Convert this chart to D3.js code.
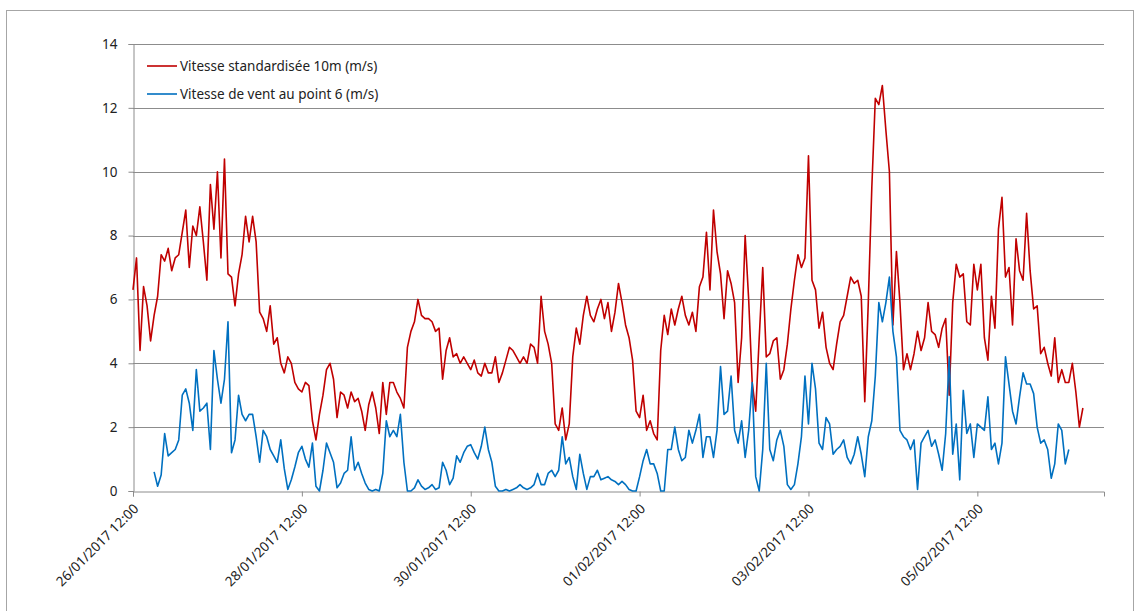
<!DOCTYPE html>
<html lang="fr">
<head>
<meta charset="utf-8">
<title>Vitesse du vent</title>
<script src="https://d3js.org/d3.v7.min.js"></script>
<style>
  body { margin: 0; background: #fff; }
  svg { display: block; font-family: "Noto Sans", "Open Sans", sans-serif; }
</style>
</head>
<body>
<script>
// hourly data, first value at 26/01/2017 12:00
var startTime = "26/01/2017 12:00";
var seriesNames = ["Vitesse standardisée 10m (m/s)", "Vitesse de vent au point 6 (m/s)"];
var tickLabels = ["26/01/2017 12:00", "28/01/2017 12:00", "30/01/2017 12:00",
                  "01/02/2017 12:00", "03/02/2017 12:00", "05/02/2017 12:00"];
var yTicks = [0, 2, 4, 6, 8, 10, 12, 14];

var vitesseStd = [
  6.3, 7.3, 4.4, 6.4, 5.8, 4.7, 5.5, 6.1, 7.4, 7.2, 7.6, 6.9, 7.3, 7.4, 8.1, 8.8, 7.0, 8.3, 8.0, 8.9, 7.8, 6.6, 9.6, 8.2,
  10.0, 7.3, 10.4, 6.8, 6.7, 5.8, 6.8, 7.4, 8.6, 7.8, 8.6, 7.8, 5.6, 5.4, 5.0, 5.8, 4.6, 4.8, 4.0, 3.7, 4.2, 4.0, 3.4, 3.2,
  3.1, 3.4, 3.3, 2.2, 1.6, 2.4, 3.0, 3.8, 4.0, 3.5, 2.3, 3.1, 3.0, 2.6, 3.1, 2.8, 2.9, 2.5, 1.9, 2.7, 3.1, 2.6, 1.8, 3.4,
  2.4, 3.4, 3.4, 3.1, 2.9, 2.6, 4.5, 5.0, 5.3, 6.0, 5.5, 5.4, 5.4, 5.3, 5.0, 5.1, 3.5, 4.4, 4.8, 4.2, 4.3, 4.0, 4.2, 4.0,
  3.8, 4.1, 3.7, 3.6, 4.0, 3.7, 3.7, 4.2, 3.4, 3.7, 4.1, 4.5, 4.4, 4.2, 4.0, 4.2, 4.0, 4.6, 4.5, 4.0, 6.1, 5.0, 4.6, 4.0,
  2.1, 1.9, 2.6, 1.6, 2.1, 4.2, 5.1, 4.6, 5.5, 6.1, 5.5, 5.3, 5.7, 6.0, 5.4, 5.9, 5.0, 5.6, 6.5, 5.9, 5.2, 4.8, 4.1, 2.5,
  2.3, 3.0, 1.9, 2.2, 1.8, 1.6, 4.4, 5.5, 4.9, 5.7, 5.2, 5.7, 6.1, 5.5, 5.2, 5.6, 5.0, 6.4, 6.7, 8.1, 6.3, 8.8, 7.5, 6.8,
  5.4, 6.9, 6.5, 5.9, 3.4, 4.8, 8.0, 6.0, 3.4, 2.5, 4.8, 7.0, 4.2, 4.3, 4.7, 4.8, 3.5, 3.8, 4.6, 5.7, 6.6, 7.4, 7.0, 7.3,
  10.5, 6.6, 6.3, 5.1, 5.6, 4.5, 4.0, 3.8, 4.6, 5.3, 5.5, 6.1, 6.7, 6.5, 6.6, 6.1, 2.8, 5.9, 9.5, 12.3, 12.1, 12.7, 11.3, 10.0,
  5.2, 7.5, 5.9, 3.8, 4.3, 3.8, 4.3, 5.0, 4.4, 4.8, 5.9, 5.0, 4.9, 4.5, 5.1, 5.4, 3.0, 5.9, 7.1, 6.7, 6.8, 5.3, 5.2, 7.1,
  6.3, 7.1, 4.8, 4.1, 6.1, 5.1, 8.2, 9.2, 6.7, 7.0, 5.2, 7.9, 6.9, 6.6, 8.7, 6.9, 5.7, 5.8, 4.3, 4.5, 4.0, 3.6, 4.8, 3.4,
  3.8, 3.4, 3.4, 4.0, 3.1, 2.0, 2.6
];

var vitessePoint6 = [
  null, null, null, null, null, null, 0.6, 0.15, 0.5, 1.8, 1.1, 1.2, 1.3, 1.6, 3.0, 3.2, 2.75, 1.9, 3.8, 2.5, 2.6, 2.75, 1.3, 4.4,
  3.5, 2.75, 3.5, 5.3, 1.2, 1.6, 3.0, 2.4, 2.2, 2.4, 2.4, 1.7, 0.9, 1.9, 1.7, 1.3, 1.1, 0.9, 1.6, 0.7, 0.05, 0.35, 0.75, 1.2,
  1.4, 1.0, 0.75, 1.5, 0.15, 0, 0.65, 1.5, 1.2, 0.9, 0.1, 0.25, 0.55, 0.65, 1.7, 0.65, 0.9, 0.55, 0.25, 0.05, 0, 0.05, 0, 0.55,
  2.2, 1.7, 1.9, 1.7, 2.4, 0.9, 0, 0, 0.1, 0.35, 0.15, 0.05, 0.1, 0.2, 0.05, 0.1, 0.9, 0.65, 0.2, 0.4, 1.1, 0.9, 1.2, 1.4,
  1.45, 1.2, 1.0, 1.4, 2.0, 1.3, 0.9, 0.15, 0, 0, 0.05, 0, 0.05, 0.1, 0.2, 0.1, 0.05, 0.1, 0.2, 0.55, 0.2, 0.2, 0.55, 0.65,
  0.45, 0.65, 1.7, 0.85, 1.05, 0.45, 0.05, 1.15, 0.55, 0.05, 0.45, 0.45, 0.65, 0.35, 0.4, 0.45, 0.35, 0.3, 0.2, 0.3, 0.2, 0.05, 0, 0,
  0.45, 0.95, 1.3, 0.85, 0.85, 0.55, 0, 0, 1.3, 1.3, 2.0, 1.3, 0.95, 1.05, 1.9, 1.5, 1.9, 2.4, 1.05, 1.7, 1.7, 1.05, 1.9, 3.9,
  2.4, 2.5, 3.6, 1.9, 1.5, 2.2, 1.05, 1.9, 3.4, 0.45, 0, 1.3, 4.0, 1.3, 0.95, 1.6, 1.9, 1.4, 0.2, 0.05, 0.2, 0.85, 1.7, 3.6,
  2.1, 4.0, 3.2, 1.5, 1.3, 2.3, 2.1, 1.15, 1.3, 1.4, 1.6, 1.05, 0.85, 1.15, 1.7, 1.15, 0.45, 1.7, 2.2, 3.6, 5.9, 5.3, 5.9, 6.7,
  5.0, 4.2, 1.9, 1.7, 1.6, 1.3, 1.6, 0.05, 1.5, 1.7, 1.9, 1.4, 1.6, 1.15, 0.65, 1.8, 4.2, 1.15, 2.1, 0.35, 3.15, 1.8, 2.1, 1.05,
  2.1, 2.0, 1.9, 2.95, 1.3, 1.5, 0.85, 1.5, 4.2, 3.35, 2.5, 2.1, 2.95, 3.7, 3.35, 3.35, 3.05, 2.0, 1.5, 1.6, 1.3, 0.4, 0.85, 2.1,
  1.9, 0.85, 1.3
];

var width = 1135, height = 611;
var plotLeft = 133, plotRight = 1104, plotTop = 44, plotBottom = 491;
var gridColor = "#8c8c8c";
var fontSize = "13.5px";

var parse = d3.timeParse("%d/%m/%Y %H:%M");
var fmt = d3.timeFormat("%d/%m/%Y %H:%M");
var t0 = parse(startTime);
function timeAt(i) { return d3.timeHour.offset(t0, i); }

var svg = d3.select("body").append("svg")
  .attr("width", width)
  .attr("height", height);

// chart area frame
svg.append("rect")
  .attr("x", 6.5).attr("y", 10.5)
  .attr("width", 1127).attr("height", 620)
  .attr("fill", "#fff")
  .attr("stroke", "#a6a6a6");

var x = d3.scaleTime()
  .domain([t0, parse("07/02/2017 00:00")])
  .range([plotLeft, plotRight]);
var y = d3.scaleLinear()
  .domain([0, 14])
  .range([plotBottom, plotTop]);

// horizontal grid
svg.append("g")
  .selectAll("line")
  .data(yTicks.slice(1))
  .enter().append("line")
  .attr("x1", plotLeft).attr("x2", plotRight)
  .attr("y1", function(d) { return Math.round(y(d)) + 0.5; })
  .attr("y2", function(d) { return Math.round(y(d)) + 0.5; })
  .attr("stroke", gridColor);

// y axis
var yAxis = svg.append("g")
  .attr("transform", "translate(" + (plotLeft + 0.5) + ",0)")
  .call(d3.axisLeft(y).tickValues(yTicks).tickSize(5).tickPadding(11).tickFormat(d3.format("d")));

// x axis
var xTicks = tickLabels.map(parse);
var xAxis = svg.append("g")
  .attr("transform", "translate(0," + (plotBottom + 0.5) + ")")
  .call(d3.axisBottom(x).tickValues(xTicks).tickSize(5).tickFormat(fmt));

[yAxis, xAxis].forEach(function(a) {
  a.select(".domain").attr("stroke", gridColor);
  a.selectAll(".tick line").attr("stroke", gridColor);
  a.selectAll("text").attr("fill", "#222").attr("font-size", fontSize)
    .attr("font-family", "'Noto Sans', 'Open Sans', sans-serif");
});

xAxis.selectAll("text")
  .attr("text-anchor", "end")
  .attr("dy", null)
  .attr("y", 0)
  .attr("transform", "translate(6,18) rotate(-45)");

// lines
var line = d3.line()
  .defined(function(d) { return d != null; })
  .x(function(d, i) { return x(timeAt(i)); })
  .y(function(d) { return y(d); });

svg.append("path")
  .datum(vitesseStd)
  .attr("fill", "none")
  .attr("stroke", "#c00000")
  .attr("stroke-width", 1.6)
  .attr("stroke-linejoin", "round")
  .attr("d", line);

svg.append("path")
  .datum(vitessePoint6)
  .attr("fill", "none")
  .attr("stroke", "#0070c0")
  .attr("stroke-width", 1.6)
  .attr("stroke-linejoin", "round")
  .attr("d", line);

// legend
var legend = svg.append("g");
var colors = ["#c00000", "#0070c0"];
seriesNames.forEach(function(name, i) {
  var ly = 66 + i * 28;
  legend.append("line")
    .attr("x1", 147).attr("x2", 177)
    .attr("y1", ly).attr("y2", ly)
    .attr("stroke", colors[i]).attr("stroke-width", 1.6);
  legend.append("text")
    .attr("x", 180).attr("y", ly + 5)
    .attr("font-size", fontSize)
    .attr("fill", "#222")
    .text(name);
});
</script>
</body>
</html>
